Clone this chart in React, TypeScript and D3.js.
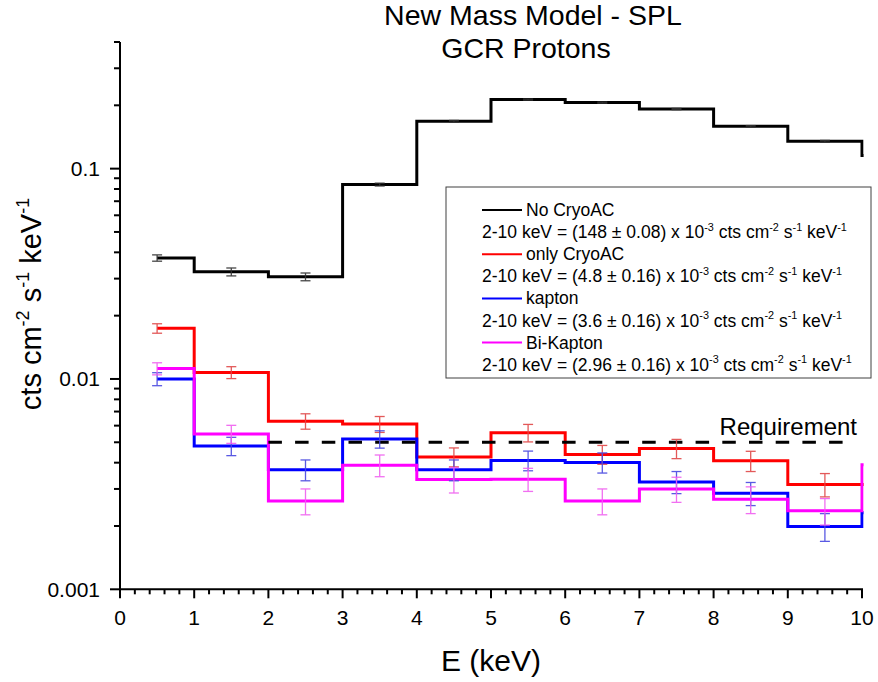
import React from "react";
import * as d3 from "d3";

// ---- data ----
const binCenters = [0.5, 1.5, 2.5, 3.5, 4.5, 5.5, 6.5, 7.5, 8.5, 9.5];
const endX = 10.5;

const noCryoAC = [0.0376, 0.0323, 0.0306, 0.084, 0.168, 0.213, 0.206, 0.192, 0.159, 0.135];
const noCryoACEnd = 0.1156;
const noCryoACErr = [0.0013, 0.0014, 0.0013, 0.0013, 0.0015, 0.0013, 0.0013, 0.0013, 0.0012, 0.0012];

const onlyCryoAC = [0.0174, 0.01074, 0.0063, 0.0061, 0.00426, 0.00555, 0.00438, 0.00467, 0.00408, 0.00315];
const onlyCryoACEnd = 0.00315;
const onlyCryoACErr = [0.0009, 0.0007, 0.00053, 0.00053, 0.00044, 0.00053, 0.00045, 0.00049, 0.00045, 0.0004];

const kapton = [0.01, 0.0048, 0.0037, 0.00518, 0.0037, 0.0041, 0.00401, 0.00324, 0.00286, 0.00199];
const kaptonEnd = 0.00231;
const kaptonErr = [0.00071, 0.00048, 0.00042, 0.00049, 0.00042, 0.00044, 0.00044, 0.00039, 0.00036, 0.0003];

const biKapton = [0.0112, 0.00548, 0.00263, 0.00389, 0.00333, 0.00334, 0.00263, 0.003, 0.00268, 0.00236];
const biKaptonEnd = 0.00391;
const biKaptonErr = [0.00074, 0.00054, 0.00037, 0.00046, 0.00046, 0.00042, 0.00037, 0.00041, 0.00039, 0.00034];

const requirement = 0.005;
const requirementRange = [2, 9.9];

const seriesNames = ["No CryoAC", "only CryoAC", "kapton", "Bi-Kapton"];
const seriesRates = [
  "2-10 keV = (148 ± 0.08) x 10^{-3} cts cm^{-2} s^{-1} keV^{-1}",
  "2-10 keV = (4.8 ± 0.16) x 10^{-3} cts cm^{-2} s^{-1} keV^{-1}",
  "2-10 keV = (3.6 ± 0.16) x 10^{-3} cts cm^{-2} s^{-1} keV^{-1}",
  "2-10 keV = (2.96 ± 0.16) x 10^{-3} cts cm^{-2} s^{-1} keV^{-1}",
];
const seriesColors = ["#000000", "#ff0000", "#0000ff", "#ff00ff"];
const errColors = ["#333333", "#e04848", "#4848e0", "#f060f0"];

const xTicks = [0, 1, 2, 3, 4, 5, 6, 7, 8, 9, 10];
const yTicks = [0.001, 0.01, 0.1];
const yTickLabels = ["0.001", "0.01", "0.1"];

const titleLines = ["New Mass Model - SPL", "GCR Protons"];
const xLabel = "E (keV)";
const yLabel = "cts cm^{-2} s^{-1} keV^{-1}";

const FONT = "'Liberation Sans', Arial, Helvetica, sans-serif";

function SupText({ text, x, y, size, anchor = "start", transform }: any) {
  const parts: { t: string; sup: boolean }[] = [];
  const re = /\^\{([^}]*)\}/g;
  let last = 0;
  let m;
  while ((m = re.exec(text)) !== null) {
    if (m.index > last) parts.push({ t: text.slice(last, m.index), sup: false });
    parts.push({ t: m[1], sup: true });
    last = m.index + m[0].length;
  }
  if (last < text.length) parts.push({ t: text.slice(last), sup: false });
  const rise = size * 0.42;
  let prevSup = false;
  return (
    <text x={x} y={y} fontSize={size} textAnchor={anchor} fontFamily={FONT} fill="#000" transform={transform} style={{ whiteSpace: "pre" }}>
      {parts.map((p, i) => {
        let dy = 0;
        if (p.sup && !prevSup) dy = -rise;
        if (!p.sup && prevSup) dy = rise;
        prevSup = p.sup;
        return (
          <tspan key={i} dy={dy} fontSize={p.sup ? size * 0.62 : size}>
            {p.t}
          </tspan>
        );
      })}
    </text>
  );
}

export default function App() {
  const W = 878;
  const H = 682;
  const left = 120, right = 862, top = 42, bottom = 589.3;
  const x = d3.scaleLinear().domain([0, 10]).range([left, right]);
  const y = d3.scaleLog().domain([0.001, 0.4]).range([bottom, top]);

  const series = [
    { vals: noCryoAC, end: noCryoACEnd, err: noCryoACErr },
    { vals: onlyCryoAC, end: onlyCryoACEnd, err: onlyCryoACErr },
    { vals: kapton, end: kaptonEnd, err: kaptonErr },
    { vals: biKapton, end: biKaptonEnd, err: biKaptonErr },
  ];

  const line = d3
    .line<[number, number]>()
    .x((d) => x(d[0]))
    .y((d) => y(d[1]))
    .curve(d3.curveStep);

  const xMinor: number[] = [];
  for (let i = 0; i < 10; i++) for (let k = 1; k < 5; k++) xMinor.push(i + k * 0.2);
  const yMinor: number[] = [];
  for (const dec of [0.001, 0.01, 0.1]) {
    for (let k = 2; k <= 9; k++) {
      const v = dec * k;
      if (v <= 0.4 + 1e-9) yMinor.push(v);
    }
  }

  const legendX = 446, legendY = 187, legendW = 425, legendH = 191;
  const rowStart = 216, rowStep = 22.1;
  const legendFont = 17.5;

  return (
    <svg width={W} height={H} style={{ position: "absolute", left: 0, top: 0, background: "#fff" }}>
      <defs>
        <clipPath id="plotClip">
          <rect x={left} y={top - 5} width={right - left + 1.6} height={bottom - top + 5} />
        </clipPath>
      </defs>
      <rect x={0} y={0} width={W} height={H} fill="#fff" />

      {/* title */}
      <text x={533} y={25} fontSize={28.5} textAnchor="middle" fontFamily={FONT}>{titleLines[0]}</text>
      <text x={526} y={58} fontSize={28.5} textAnchor="middle" fontFamily={FONT}>{titleLines[1]}</text>

      {/* data lines */}
      <g clipPath="url(#plotClip)">
        {series.map((s, si) => {
          const pts: [number, number][] = binCenters.map((c, i) => [c, s.vals[i]]);
          pts.push([endX, s.end]);
          return (
            <path key={si} d={line(pts) || ""} fill="none" stroke={seriesColors[si]} strokeWidth={3} strokeLinejoin="miter" />
          );
        })}
      </g>

      {/* requirement */}
      <line
        x1={x(requirementRange[0])}
        x2={x(requirementRange[1])}
        y1={y(requirement)}
        y2={y(requirement)}
        stroke="#000"
        strokeWidth={3}
        strokeDasharray="13.5,13.2"
      />
      <text x={857} y={435} fontSize={24} textAnchor="end" fontFamily={FONT}>Requirement</text>

      {/* error bars */}
      {series.map((s, si) => (
        <g key={"e" + si} stroke={errColors[si]} strokeWidth={1.3} opacity={0.9}>
          {binCenters.map((c, i) => {
            const cx = x(c);
            const y1 = y(s.vals[i] + s.err[i]);
            const y2 = y(s.vals[i] - s.err[i]);
            return (
              <g key={i}>
                <line x1={cx} x2={cx} y1={y1} y2={y2} />
                <line x1={cx - 5} x2={cx + 5} y1={y1} y2={y1} />
                <line x1={cx - 5} x2={cx + 5} y1={y2} y2={y2} />
              </g>
            );
          })}
        </g>
      ))}

      {/* axes */}
      <g stroke="#000" strokeWidth={2}>
        <line x1={left} x2={left} y1={top} y2={bottom + 1} />
        <line x1={left - 1} x2={right + 1} y1={bottom} y2={bottom} />
        {xTicks.map((t) => (
          <line key={"xt" + t} x1={x(t)} x2={x(t)} y1={bottom} y2={bottom + 9} />
        ))}
        {xMinor.map((t, i) => (
          <line key={"xm" + i} x1={x(t)} x2={x(t)} y1={bottom} y2={bottom + 5} />
        ))}
        {yTicks.map((t) => (
          <line key={"yt" + t} x1={left - 10} x2={left} y1={y(t)} y2={y(t)} />
        ))}
        {yMinor.map((t, i) => (
          <line key={"ym" + i} x1={left - 6} x2={left} y1={y(t)} y2={y(t)} />
        ))}
      </g>
      {xTicks.map((t) => (
        <text key={"xl" + t} x={x(t)} y={625} fontSize={21} textAnchor="middle" fontFamily={FONT}>{t}</text>
      ))}
      {yTicks.map((t, i) => (
        <text key={"yl" + t} x={100} y={y(t) + 7.5} fontSize={21} textAnchor="end" fontFamily={FONT}>{yTickLabels[i]}</text>
      ))}

      {/* axis labels */}
      <text x={(left + right) / 2} y={671} fontSize={30} textAnchor="middle" fontFamily={FONT}>{xLabel}</text>
      <SupText text={yLabel} x={0} y={0} size={29} anchor="middle" transform={`translate(41,304) rotate(-90)`} />

      {/* legend */}
      <rect x={legendX} y={legendY} width={legendW} height={legendH} fill="#fff" stroke="#404040" strokeWidth={1} />
      {seriesNames.map((n, i) => {
        const by = rowStart + i * 2 * rowStep;
        return (
          <g key={"lg" + i}>
            <line x1={482} x2={522} y1={by - 6} y2={by - 6} stroke={seriesColors[i]} strokeWidth={2} />
            <text x={526} y={by} fontSize={legendFont} fontFamily={FONT}>{n}</text>
            <SupText text={seriesRates[i]} x={482} y={by + rowStep} size={legendFont} />
          </g>
        );
      })}
    </svg>
  );
}
